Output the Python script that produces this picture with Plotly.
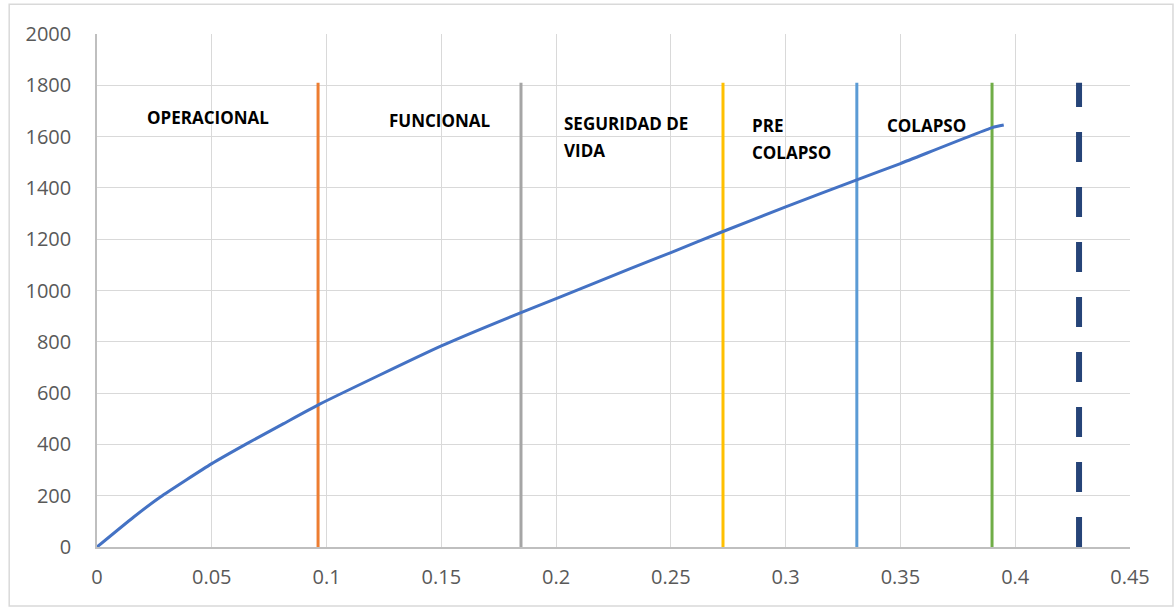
import plotly.graph_objects as go

# Capacity curve (displacement vs. base shear)
curve_x = [0, 0.016, 0.0276, 0.05, 0.0653, 0.0813, 0.0968, 0.15, 0.1847, 0.2,
           0.2323, 0.25, 0.2727, 0.3, 0.331, 0.35, 0.39, 0.395]
curve_y = [0, 117, 195, 325, 403, 481, 556, 784, 914, 968,
           1085, 1148, 1230, 1326, 1431, 1495, 1635, 1645]

# Performance level limits
limit_x = [0.0963, 0.1847, 0.2727, 0.331, 0.3899]
limit_colors = ["#ed7d31", "#a5a5a5", "#ffc000", "#5b9bd5", "#70ad47"]
limit_top = 1810
ultimate_x = 0.4278

# Zone labels (first line position; further lines go below)
zone_text = ["OPERACIONAL", "FUNCIONAL", "SEGURIDAD DE<br>VIDA", "PRE<br>COLAPSO", "COLAPSO"]
zone_x = [0.0484, 0.1495, 0.2026, 0.2845, 0.3433]
zone_y = [1676, 1661, 1653, 1645, 1645]
zone_anchor = ["center", "center", "left", "left", "left"]
line_gap = 106  # vertical spacing of label lines, in data units

fig = go.Figure()

for xv, col in zip(limit_x, limit_colors):
    fig.add_trace(go.Scatter(x=[xv, xv], y=[0, limit_top], mode="lines",
                             line=dict(color=col, width=3), showlegend=False,
                             hoverinfo="skip"))

fig.add_trace(go.Scatter(x=[ultimate_x, ultimate_x], y=[0, limit_top], mode="lines",
                         line=dict(color="#264478", width=6, dash="30px,25px"),
                         showlegend=False, hoverinfo="skip"))

fig.add_trace(go.Scatter(x=curve_x, y=curve_y, mode="lines",
                         line=dict(color="#4472c4", width=3, shape="spline", smoothing=0.5),
                         showlegend=False))

for t, xv, yv, anc in zip(zone_text, zone_x, zone_y, zone_anchor):
    for i, part in enumerate(t.split("<br>")):
        fig.add_annotation(x=xv, y=yv - i * line_gap, text="<b>" + part + "</b>",
                           showarrow=False, xanchor=anc, yanchor="middle",
                           font=dict(family="Open Sans", size=17, color="#000000"))

# outer chart frame
fig.add_shape(type="rect", xref="paper", yref="paper",
              x0=-0.085, x1=1.0416, y0=-0.115, y1=1.058,
              line=dict(color="#d9d9d9", width=1.5), layer="below")

tick_font = dict(family="Open Sans", size=20, color="#595959")

fig.update_layout(
    width=1175, height=607,
    margin=dict(l=97, r=45, t=34, b=60),
    paper_bgcolor="white", plot_bgcolor="white",
    font=dict(family="Open Sans", size=20, color="#595959"),
    xaxis=dict(range=[0, 0.45], tickvals=[0, 0.05, 0.1, 0.15, 0.2, 0.25, 0.3, 0.35, 0.4, 0.45],
               ticktext=["0", "0.05", "0.1", "0.15", "0.2", "0.25", "0.3", "0.35", "0.4", "0.45"],
               tickfont=tick_font,
               showgrid=True, gridcolor="#d9d9d9", gridwidth=1,
               showline=True, linecolor="#bfbfbf", linewidth=1.5, mirror=False,
               zeroline=False, ticks="", ticklabelstandoff=11),
    yaxis=dict(range=[0, 2000], dtick=200, tickfont=tick_font,
               showgrid=True, gridcolor="#d9d9d9", gridwidth=1,
               showline=True, linecolor="#bfbfbf", linewidth=1.5,
               zeroline=False, ticks="", ticklabelstandoff=20),
)

fig.write_html("out.html")
